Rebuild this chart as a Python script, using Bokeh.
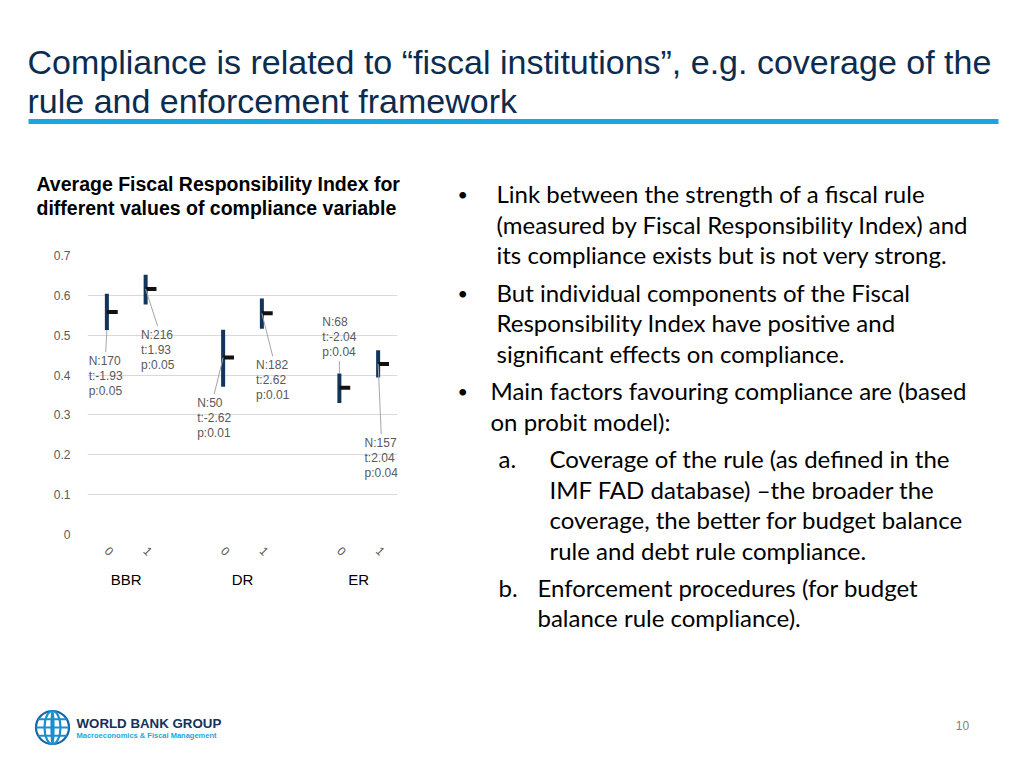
import math
from bokeh.plotting import figure
from bokeh.layouts import column, row
from bokeh.models import (ColumnDataSource, FactorRange, Range1d, Label, LabelSet,
                          FixedTicker, CustomJSTickFormatter)
from bokeh.core.properties import value
from bokeh.embed import file_html
from bokeh.resources import INLINE

# ---------------- data ----------------
rules = ["BBR", "BBR", "DR", "DR", "ER", "ER"]
compliance = ["0", "1", "0", "1", "0", "1"]
fri_high = [0.604, 0.652, 0.514, 0.592, 0.404, 0.462]
fri_low = [0.513, 0.577, 0.371, 0.516, 0.330, 0.394]
fri_close = [0.558, 0.616, 0.444, 0.555, 0.368, 0.428]
n_obs = ["170", "216", "50", "182", "68", "157"]
t_stat = ["-1.93", "1.93", "-2.62", "2.62", "-2.04", "2.04"]
p_val = ["0.05", "0.05", "0.01", "0.01", "0.04", "0.04"]
y_ticks = [0, 0.1, 0.2, 0.3, 0.4, 0.5, 0.6, 0.7]

# label placement (category offset, top of label in data units, point the leader starts from)
label_dx = [-0.03, 0.31, -0.23, 0.28, 0.0, 0.08]
label_top = [0.4525, 0.5175, 0.347, 0.442, 0.55, 0.247]
leader_from = ["low", "close", "close", "close", "high", "close"]

NAVY = "#12355b"
GRAY = "#595959"
SANS = "Liberation Sans"

PAGE_W = 1016
TOP_H = 239
MID_H = 441
BOT_H = 80
LEFT_W = 440


# ---------------- helpers for "canvas" figures whose data units are page pixels ----------------
def canvas(w, h, x0, y0):
    f = figure(width=w, height=h, x_range=Range1d(x0, x0 + w), y_range=Range1d(0, h),
               output_backend="svg", toolbar_location=None,
               min_border=0, min_border_left=0, min_border_right=0,
               min_border_top=0, min_border_bottom=0,
               outline_line_color=None, background_fill_color="white",
               border_fill_color="white")
    f.xaxis.visible = False
    f.yaxis.visible = False
    f.grid.visible = False
    f._page = (x0, y0, h)
    return f


def put(f, text, px, py, size, color="#000000", font=SANS, style="normal",
        align="left", baseline="middle"):
    x0, y0, h = f._page
    f.add_layout(Label(x=px, y=y0 + h - py, text=text, text_font_size=f"{size}px",
                       text_color=color, text_font=font, text_font_style=style,
                       text_align=align, text_baseline=baseline))


# ---------------- top: slide title, chart title, start of the bullets ----------------
top = canvas(PAGE_W, TOP_H, 0, 0)
TITLE = "#0b2c4f"
put(top, "Compliance is related to \u201cfiscal institutions\u201d, e.g. coverage of the",
    27, 61, 34, TITLE)
put(top, "rule and enforcement framework", 27, 100, 34, TITLE)
top.quad(left=[28], right=[998], bottom=[TOP_H - 123.5], top=[TOP_H - 118.5],
         fill_color="#16a8df", line_color=None)
put(top, "Average Fiscal Responsibility Index for", 36, 183, 19.5, style="bold")
put(top, "different values of compliance variable", 36, 207, 19.5, style="bold")

# ---------------- chart ----------------
CH_Y0 = TOP_H
CH_H = MID_H
FL, FT, FW, FH = 87, 255 - CH_Y0, 310, 279

factors = list(zip(rules, compliance))
x_range = FactorRange(*factors, factor_padding=0.0, group_padding=1.0, range_padding=0.0)

p = figure(x_range=x_range, y_range=Range1d(0, 0.7), width=LEFT_W, height=CH_H,
           output_backend="svg", toolbar_location=None,
           min_border_left=FL, min_border_top=FT, min_border_right=LEFT_W - FL - FW,
           min_border_bottom=CH_H - FT - FH, outline_line_color=None,
           background_fill_color="white", border_fill_color="white")

p.yaxis.ticker = FixedTicker(ticks=y_ticks)
p.yaxis.formatter = CustomJSTickFormatter(code="return tick == 0 ? '0' : tick.toFixed(1);")
p.yaxis.axis_line_color = None
p.yaxis.major_tick_line_color = None
p.yaxis.minor_tick_line_color = None
p.yaxis.major_label_standoff = 11
p.yaxis.major_label_text_font_size = "12px"
p.yaxis.major_label_text_color = GRAY
p.yaxis.major_label_text_font = SANS

p.xaxis.axis_line_color = None
p.xaxis.major_tick_line_color = None
p.xaxis.minor_tick_line_color = None
p.xaxis.major_label_orientation = -math.pi / 4
p.xaxis.major_label_text_font_size = "12px"
p.xaxis.major_label_text_color = GRAY
p.xaxis.major_label_text_font = SANS
p.xaxis.major_label_standoff = 8
p.xaxis.group_text_font_size = "15px"
p.xaxis.group_text_font_style = "normal"
p.xaxis.group_text_color = "#000000"
p.xaxis.group_text_font = SANS
p.xaxis.separator_line_color = None

p.xgrid.grid_line_color = None
p.ygrid.grid_line_color = "#d9d9d9"
p.ygrid.grid_line_width = 1

src = ColumnDataSource(dict(
    cat=factors, high=fri_high, low=fri_low, close=fri_close,
    tick_end=[(r, c, 0.28) for r, c in factors],
))
p.segment(x0="cat", y0="low", x1="cat", y1="high", source=src,
          line_width=4, line_color=NAVY)
p.segment(x0="cat", y0="close", x1="tick_end", y1="close", source=src,
          line_width=4, line_color="#111111")

pick = {"low": fri_low, "high": fri_high, "close": fri_close}
lead_y0 = [pick[k][i] for i, k in enumerate(leader_from)]
lead_y1 = []
for i, k in enumerate(leader_from):
    if k == "high":
        lead_y1.append(label_top[i] - 0.11 - 0.005)
    else:
        lead_y1.append(label_top[i] + 0.005)
lab_src = ColumnDataSource(dict(
    x0=factors,
    x1=[(r, c, d) for (r, c), d in zip(factors, label_dx)],
    y0=lead_y0, y1=lead_y1, ytop=label_top,
    text=[f"N:{n}\nt:{t}\np:{pv}" for n, t, pv in zip(n_obs, t_stat, p_val)],
))
p.segment(x0="x0", y0="y0", x1="x1", y1="y1", source=lab_src,
          line_width=1, line_color="#a6a6a6")
p.add_layout(LabelSet(x="x1", y="ytop", text="text", source=lab_src,
                      text_align="center", text_baseline="top",
                      text_font_size=value("12px"), text_line_height=1.06,
                      text_color=value(GRAY), text_font=value(SANS)))

# ---------------- bullets ----------------
tx = canvas(PAGE_W - LEFT_W, MID_H, LEFT_W, TOP_H)
BF = "Lato"
BS = 24
bullets = [
    (457, 496, 193, "\u2022", "Link between the strength of a fiscal rule"),
    (None, 496, 224, None, "(measured by Fiscal Responsibility Index) and"),
    (None, 496, 254, None, "its compliance exists but is not very strong."),
    (457, 496, 292, "\u2022", "But individual components of the Fiscal"),
    (None, 496, 322, None, "Responsibility Index have positive and"),
    (None, 496, 353, None, "significant effects on compliance."),
    (457, 490, 390, "\u2022", "Main factors favouring compliance are (based"),
    (None, 490, 421, None, "on probit model):"),
    (498, 549, 458, "a.", "Coverage of the rule (as defined in the"),
    (None, 549, 489, None, "IMF FAD database) \u2013the broader the"),
    (None, 549, 519, None, "coverage, the better for budget balance"),
    (None, 549, 550, None, "rule and debt rule compliance."),
    (498, 537, 587, "b.", "Enforcement procedures (for budget"),
    (None, 537, 617, None, "balance rule compliance)."),
]
for mx, bx, by, marker, txt in bullets:
    f = top if by < TOP_H else tx
    if marker is not None:
        put(f, marker, mx, by, 18 if marker == "\u2022" else BS, font=BF)
    put(f, txt, bx, by, BS, font=BF)

# ---------------- footer: logo + page number ----------------
bot = canvas(PAGE_W, BOT_H, 0, TOP_H + MID_H)
gx, gy = 52, (TOP_H + MID_H + BOT_H) - 727
bot.ellipse(x=[gx, gx, gx], y=[gy, gy, gy], width=[33, 16, 2], height=[33, 33, 33],
            fill_color=None, line_color=["#1565a8", "#1a8fd0", "#1a8fd0"], line_width=2.2)
bot.segment(x0=[gx - 14.3, gx - 16.5, gx - 14.3], x1=[gx + 14.3, gx + 16.5, gx + 14.3],
            y0=[gy + 8.2, gy, gy - 8.2], y1=[gy + 8.2, gy, gy - 8.2],
            line_color="#1a8fd0", line_width=2)
put(bot, "WORLD BANK GROUP", 76, 723, 13.3, "#14315c", style="bold")
put(bot, "Macroeconomics & Fiscal Management", 76, 734.5, 7.5, "#22a6e0", style="bold")
put(bot, "10", 962, 725, 12, "#808080", align="center")

layout = column(top, row(column(p), tx), bot)
open("out.html", "w").write(file_html(layout, INLINE))
